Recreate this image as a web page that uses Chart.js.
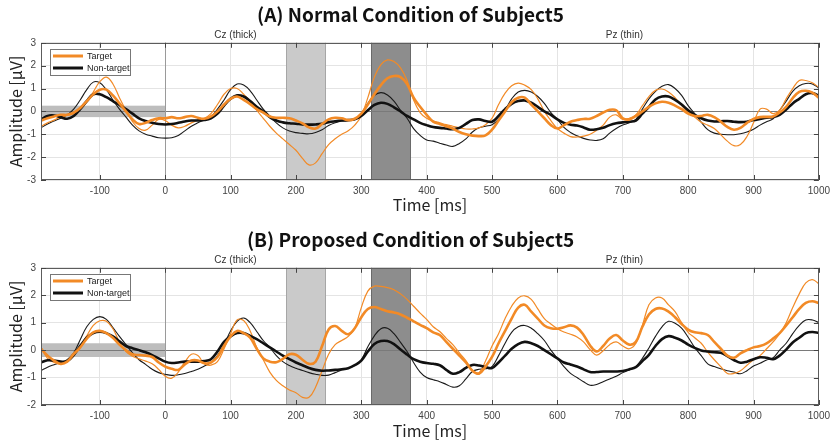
<!DOCTYPE html>
<html>
<head>
<meta charset="utf-8">
<title>Subject5 ERP</title>
<script src="https://cdn.jsdelivr.net/npm/chart.js@4.4.1/dist/chart.umd.min.js"></script>
<style>
  body { margin: 0; background: #fff; }
  canvas { display: block; }
</style>
</head>
<body>
<canvas id="normalChart" width="835" height="219"></canvas>
<canvas id="proposedChart" width="835" height="224"></canvas>
<script>
// time axis (ms), one sample every 10 ms
var times = [
  -190, -180, -170, -160, -150, -140, -130, -120, -110, -100,
  -90, -80, -70, -60, -50, -40, -30, -20, -10, 0,
  10, 20, 30, 40, 50, 60, 70, 80, 90, 100,
  110, 120, 130, 140, 150, 160, 170, 180, 190, 200,
  210, 220, 230, 240, 250, 260, 270, 280, 290, 300,
  310, 320, 330, 340, 350, 360, 370, 380, 390, 400,
  410, 420, 430, 440, 450, 460, 470, 480, 490, 500,
  510, 520, 530, 540, 550, 560, 570, 580, 590, 600,
  610, 620, 630, 640, 650, 660, 670, 680, 690, 700,
  710, 720, 730, 740, 750, 760, 770, 780, 790, 800,
  810, 820, 830, 840, 850, 860, 870, 880, 890, 900,
  910, 920, 930, 940, 950, 960, 970, 980, 990, 1000
];

// (A) normal condition, amplitude in uV
var normalCzTarget = [
  -0.4, -0.3, -0.22, -0.15, -0.15, -0.05, 0.15, 0.45, 0.75, 0.95,
  0.95, 0.7, 0.35, 0.0, -0.35, -0.55, -0.5, -0.38, -0.3, -0.3,
  -0.25, -0.3, -0.25, -0.2, -0.28, -0.32, -0.22, 0.0, 0.3, 0.55,
  0.65, 0.5, 0.32, 0.1, -0.05, -0.22, -0.28, -0.28, -0.3, -0.4,
  -0.52, -0.7, -0.75, -0.55, -0.35, -0.28, -0.3, -0.38, -0.32, -0.1,
  0.3, 0.75, 1.15, 1.45, 1.55, 1.5, 1.2, 0.6, 0.2, -0.15,
  -0.45, -0.55, -0.65, -0.75, -0.9, -1.0, -1.06, -1.08, -1.05, -0.8,
  -0.4, 0.0, 0.4, 0.6, 0.6, 0.3, 0.0, -0.3, -0.6, -0.75,
  -0.6, -0.45, -0.38, -0.33, -0.32, -0.2, -0.05, 0.07, 0.05, -0.3,
  -0.35, -0.2, 0.0, 0.2, 0.35, 0.42, 0.38, 0.25, 0.1, -0.1,
  -0.2, -0.2, -0.15, -0.25, -0.45, -0.68, -0.8, -0.72, -0.5, -0.33,
  -0.25, -0.24, -0.22, -0.05, 0.2, 0.58, 0.85, 0.9, 0.82, 0.6
];
var normalCzNontarget = [
  -0.35, -0.2, -0.18, -0.25, -0.32, -0.2, 0.1, 0.45, 0.75, 0.75,
  0.62, 0.45, 0.28, 0.1, -0.1, -0.3, -0.42, -0.5, -0.55, -0.57,
  -0.55, -0.5, -0.44, -0.4, -0.4, -0.38, -0.3, -0.1, 0.25, 0.55,
  0.7, 0.65, 0.45, 0.2, 0.0, -0.25, -0.4, -0.48, -0.52, -0.54,
  -0.57, -0.58, -0.57, -0.54, -0.47, -0.43, -0.4, -0.38, -0.34, -0.2,
  0.05, 0.28, 0.38, 0.33, 0.18, 0.0, -0.2, -0.35, -0.5, -0.6,
  -0.68, -0.72, -0.75, -0.78, -0.72, -0.55, -0.38, -0.35, -0.42, -0.45,
  -0.2, 0.1, 0.33, 0.45, 0.48, 0.38, 0.2, 0.0, -0.15, -0.35,
  -0.5, -0.58, -0.62, -0.7, -0.8, -0.78, -0.72, -0.6, -0.52, -0.48,
  -0.45, -0.4, -0.1, 0.2, 0.52, 0.65, 0.65, 0.5, 0.3, 0.05,
  -0.15, -0.3, -0.4, -0.44, -0.43, -0.42, -0.45, -0.47, -0.45, -0.38,
  -0.33, -0.28, -0.25, -0.15, 0.08, 0.35, 0.55, 0.75, 0.8, 0.68
];
var normalPzTarget = [
  -0.65, -0.5, -0.38, -0.25, -0.18, -0.1, 0.1, 0.4, 0.85, 1.3,
  1.5, 1.2, 0.6, 0.05, -0.45, -0.75, -0.82, -0.6, -0.35, -0.4,
  -0.6, -0.72, -0.65, -0.5, -0.38, -0.3, -0.1, 0.3, 0.75, 1.0,
  1.0, 0.75, 0.45, 0.05, -0.3, -0.65, -0.95, -1.2, -1.45, -1.7,
  -2.05, -2.34, -2.25, -1.85, -1.45, -1.2, -1.0, -0.85, -0.6, -0.2,
  0.6, 1.5, 2.05, 2.25, 2.18, 1.9, 1.35, 0.5, -0.05, -0.3,
  -0.42, -0.5, -0.58, -0.65, -0.72, -0.77, -0.77, -0.72, -0.58, -0.3,
  0.3, 0.8, 1.12, 1.24, 1.15, 0.95, 0.55, 0.0, -0.4, -0.75,
  -0.95, -1.1, -1.12, -1.08, -1.0, -0.82, -0.6, -0.25, -0.15, -0.35,
  -0.3, -0.15, 0.25, 0.65, 0.92, 0.98, 0.85, 0.6, 0.26, -0.05,
  -0.25, -0.47, -0.6, -0.75, -1.02, -1.3, -1.5, -1.45, -1.1, -0.5,
  0.1, 0.1, -0.1, 0.05, 0.55, 1.0, 1.35, 1.35, 1.25, 1.05
];
var normalPzNontarget = [
  -0.72, -0.55, -0.42, -0.3, -0.15, 0.1, 0.5, 0.95, 1.28, 1.25,
  0.95, 0.5, 0.1, -0.25, -0.6, -0.85, -1.0, -1.08, -1.15, -1.17,
  -1.15, -1.05, -0.85, -0.65, -0.5, -0.37, -0.22, 0.1, 0.5, 0.95,
  1.2, 1.15, 0.9, 0.5, 0.1, -0.2, -0.5, -0.72, -0.86, -0.93,
  -0.96, -0.98, -0.92, -0.8, -0.62, -0.5, -0.42, -0.4, -0.35, -0.1,
  0.35, 0.7, 0.82, 0.72, 0.45, 0.05, -0.3, -0.75, -1.05, -1.25,
  -1.3, -1.39, -1.47, -1.53, -1.4, -1.2, -0.9, -0.72, -0.65, -0.58,
  -0.35, 0.05, 0.55, 0.85, 0.92, 0.85, 0.65, 0.35, -0.05, -0.35,
  -0.7, -0.92, -1.07, -1.18, -1.25, -1.27, -1.2, -0.95, -0.75, -0.6,
  -0.5, -0.35, 0.1, 0.55, 0.88, 1.1, 1.17, 1.0, 0.7, 0.25,
  -0.1, -0.47, -0.8, -0.95, -1.0, -1.02, -1.02, -0.98, -0.9, -0.78,
  -0.6, -0.45, -0.32, 0.05, 0.45, 0.88, 1.12, 1.22, 1.2, 1.02
];

// (B) proposed condition
var proposedCzTarget = [
  0.05, -0.2, -0.38, -0.5, -0.42, -0.15, 0.1, 0.42, 0.65, 0.7,
  0.62, 0.45, 0.2, 0.0, -0.15, -0.18, -0.2, -0.25, -0.45, -0.6,
  -0.68, -0.72, -0.52, -0.38, -0.38, -0.48, -0.45, -0.25, 0.15, 0.5,
  0.7, 0.62, 0.45, 0.05, -0.3, -0.42, -0.44, -0.32, -0.15, -0.17,
  -0.35, -0.5, -0.42, 0.15, 0.75, 0.88, 0.7, 0.58, 0.8, 1.2,
  1.5, 1.57, 1.5, 1.42, 1.37, 1.3, 1.18, 1.05, 0.92, 0.8,
  0.65, 0.55, 0.3, 0.05, -0.2, -0.45, -0.75, -0.86, -0.6, -0.25,
  0.25, 0.7, 1.15, 1.55, 1.65, 1.4, 1.15, 0.9, 0.8, 0.78,
  0.83, 0.9, 0.82, 0.55, 0.17, -0.05, 0.15, 0.42, 0.55, 0.35,
  0.2, 0.3, 0.85, 1.3, 1.5, 1.52, 1.4, 1.2, 0.95, 0.75,
  0.65, 0.62, 0.55, 0.3, 0.05, -0.2, -0.28, -0.12, 0.0, 0.1,
  0.15, 0.25, 0.42, 0.62, 0.9, 1.2, 1.5, 1.72, 1.78, 1.72
];
var proposedCzNontarget = [
  -0.45, -0.37, -0.38, -0.42, -0.4, -0.18, 0.15, 0.45, 0.62, 0.67,
  0.62, 0.5, 0.32, 0.15, 0.07, 0.0, -0.08, -0.18, -0.3, -0.42,
  -0.47, -0.45, -0.42, -0.42, -0.42, -0.4, -0.33, -0.05, 0.3, 0.5,
  0.62, 0.62, 0.52, 0.4, 0.25, 0.1, -0.05, -0.2, -0.33, -0.45,
  -0.55, -0.65, -0.72, -0.75, -0.74, -0.72, -0.7, -0.66, -0.55, -0.38,
  -0.05, 0.22, 0.33, 0.33, 0.22, 0.02, -0.16, -0.33, -0.42, -0.47,
  -0.5, -0.55, -0.72, -0.86, -0.8, -0.65, -0.54, -0.56, -0.62, -0.65,
  -0.45, -0.2, 0.05, 0.22, 0.3, 0.25, 0.15, 0.0, -0.15, -0.3,
  -0.45, -0.52, -0.6, -0.7, -0.8, -0.8, -0.78, -0.78, -0.78, -0.76,
  -0.7, -0.62, -0.4, -0.17, 0.15, 0.4, 0.51, 0.45, 0.35, 0.2,
  0.08, -0.01, -0.05, -0.08, -0.1, -0.22, -0.36, -0.46, -0.42, -0.33,
  -0.26, -0.28, -0.33, -0.2, 0.02, 0.28, 0.45, 0.62, 0.66, 0.63
];
var proposedPzTarget = [
  0.1, -0.3, -0.45, -0.5, -0.4, -0.1, 0.15, 0.52, 0.9, 1.07,
  1.05, 0.78, 0.3, -0.05, -0.22, -0.32, -0.4, -0.5, -0.7, -0.95,
  -1.02, -0.8, -0.44, -0.15, -0.2, -0.5, -0.55, -0.42, 0.05, 0.6,
  1.1, 1.08, 0.7, 0.1, -0.35, -0.8, -1.1, -1.3, -1.45, -1.55,
  -1.72, -1.72, -1.35, -0.75, -0.15, 0.2, 0.35, 0.5, 0.8, 1.55,
  2.15, 2.33, 2.32, 2.28, 2.2, 2.05, 1.85, 1.6, 1.35, 1.12,
  0.85, 0.68, 0.43, 0.2, -0.1, -0.38, -0.75, -0.82, -0.4, 0.15,
  0.6, 1.15, 1.6, 1.9, 1.98, 1.85, 1.5, 1.15, 0.95, 0.78,
  0.66, 0.58, 0.48, 0.3, 0.02, -0.18, -0.02, 0.2, 0.3, 0.15,
  0.05, 0.25, 0.9, 1.65, 1.9, 1.9, 1.65, 1.4, 1.0, 0.65,
  0.45, 0.25, -0.07, -0.35, -0.6, -0.85, -0.85, -0.75, -0.55, -0.35,
  -0.2, 0.05, 0.3, 0.6, 1.0, 1.55, 2.05, 2.45, 2.57, 2.42
];
var proposedPzNontarget = [
  -0.75, -0.62, -0.53, -0.45, -0.35, -0.1, 0.38, 0.85, 1.12, 1.22,
  1.12, 0.82, 0.5, 0.2, -0.1, -0.35, -0.52, -0.7, -0.82, -0.88,
  -0.92, -0.9, -0.85, -0.78, -0.7, -0.58, -0.45, -0.2, 0.2, 0.7,
  1.05, 1.17, 1.0, 0.68, 0.35, 0.1, -0.2, -0.42, -0.56, -0.66,
  -0.74, -0.82, -0.88, -0.92, -0.91, -0.82, -0.72, -0.66, -0.55, -0.35,
  0.12, 0.52, 0.78, 0.8, 0.6, 0.28, -0.05, -0.45, -0.8, -1.0,
  -1.08, -1.15, -1.25, -1.35, -1.3, -1.05, -0.78, -0.7, -0.68, -0.6,
  -0.2, 0.25, 0.65, 0.85, 0.9, 0.8, 0.6, 0.35, 0.0, -0.3,
  -0.6, -0.85, -1.0, -1.15, -1.28, -1.25, -1.15, -1.05, -0.95, -0.82,
  -0.72, -0.6, -0.3, 0.08, 0.5, 0.85, 1.05, 0.98, 0.8, 0.47,
  0.1, -0.2, -0.5, -0.6, -0.68, -0.75, -0.8, -0.86, -0.75, -0.58,
  -0.48, -0.36, -0.28, 0.0, 0.25, 0.6, 0.9, 1.1, 1.1, 1.0
];

var xTicks = [-100, 0, 100, 200, 300, 400, 500, 600, 700, 800, 900, 1000];
var yTicksNormal = [-3, -2, -1, 0, 1, 2, 3];
var yTicksProposed = [-2, -1, 0, 1, 2, 3];

// baseline window and the two analysis windows (ms)
var baselineWin = [-190, 0];
var baselineAmp = 0.25;
var earlyWin = [185, 245];
var lateWin = [315, 375];

var legendLabels = ['Target', 'Non-target'];
var captions = ['Cz (thick)', 'Pz (thin)'];

var ORANGE = '#f28a26';
var BLACK = '#111111';

function points(vals) {
  return vals.map(function (v, i) { return { x: times[i], y: v }; });
}

function vline(ctx, px, y0, y1) {
  ctx.beginPath();
  ctx.moveTo(Math.round(px) + 0.5, y0);
  ctx.lineTo(Math.round(px) + 0.5, y1);
  ctx.stroke();
}
function hline(ctx, py, x0, x1) {
  ctx.beginPath();
  ctx.moveTo(x0, Math.round(py) + 0.5);
  ctx.lineTo(x1, Math.round(py) + 0.5);
  ctx.stroke();
}

// shaded windows, zero lines, frame, inner ticks, captions and legend
var erpDecor = {
  id: 'erpDecor',
  beforeDatasetsDraw: function (chart) {
    var ctx = chart.ctx, a = chart.chartArea;
    var x = chart.scales.x, y = chart.scales.y;
    ctx.save();

    var bx0 = x.getPixelForValue(baselineWin[0]), bx1 = x.getPixelForValue(baselineWin[1]);
    var by0 = y.getPixelForValue(baselineAmp), by1 = y.getPixelForValue(-baselineAmp);
    ctx.fillStyle = '#bdbdbd';
    ctx.fillRect(bx0, by0, bx1 - bx0, by1 - by0);

    var ex0 = x.getPixelForValue(earlyWin[0]), ex1 = x.getPixelForValue(earlyWin[1]);
    ctx.fillStyle = '#cacaca';
    ctx.fillRect(ex0, a.top, ex1 - ex0, a.bottom - a.top);
    ctx.strokeStyle = '#a6a6a6';
    ctx.lineWidth = 1;
    vline(ctx, ex0, a.top, a.bottom);
    vline(ctx, ex1, a.top, a.bottom);

    var lx0 = x.getPixelForValue(lateWin[0]), lx1 = x.getPixelForValue(lateWin[1]);
    ctx.fillStyle = '#8d8d8d';
    ctx.fillRect(lx0, a.top, lx1 - lx0, a.bottom - a.top);
    ctx.strokeStyle = '#6a6a6a';
    vline(ctx, lx0, a.top, a.bottom);
    vline(ctx, lx1, a.top, a.bottom);

    ctx.strokeStyle = '#7a7a7a';
    hline(ctx, y.getPixelForValue(0), a.left, a.right);
    ctx.strokeStyle = '#9a9a9a';
    vline(ctx, x.getPixelForValue(0), a.top, a.bottom);
    ctx.restore();
  },
  afterDatasetsDraw: function (chart) {
    var ctx = chart.ctx, a = chart.chartArea;
    var x = chart.scales.x, y = chart.scales.y;
    ctx.save();

    // axes box
    ctx.strokeStyle = '#5c5c5c';
    ctx.lineWidth = 1;
    ctx.strokeRect(Math.round(a.left) + 0.5, Math.round(a.top) + 0.5,
      Math.round(a.right - a.left) - 1, Math.round(a.bottom - a.top) - 1);

    // inward tick marks
    ctx.strokeStyle = '#444';
    x.ticks.forEach(function (t) {
      var px = x.getPixelForValue(t.value);
      vline(ctx, px, a.bottom, a.bottom - 5);
      vline(ctx, px, a.top, a.top + 5);
    });
    y.ticks.forEach(function (t) {
      var py = y.getPixelForValue(t.value);
      hline(ctx, py, a.left, a.left + 5);
      hline(ctx, py, a.right - 5, a.right);
    });

    // electrode captions above the axes
    ctx.fillStyle = '#333';
    ctx.font = '10px "Liberation Sans", Arial, sans-serif';
    ctx.textAlign = 'center';
    ctx.textBaseline = 'middle';
    ctx.fillText(captions[0], a.left + (a.right - a.left) * 0.25, a.top - 8);
    ctx.fillText(captions[1], a.left + (a.right - a.left) * 0.75, a.top - 8);

    // legend box
    var lx = Math.round(a.left) + 9, ly = Math.round(a.top) + 6;
    ctx.fillStyle = '#fff';
    ctx.fillRect(lx, ly, 80, 26);
    ctx.strokeStyle = '#777';
    ctx.strokeRect(lx + 0.5, ly + 0.5, 80, 26);
    var cols = [ORANGE, BLACK];
    ctx.textAlign = 'left';
    ctx.font = '9px "Liberation Sans", Arial, sans-serif';
    for (var i = 0; i < 2; i++) {
      var yy = ly + 7 + i * 12;
      ctx.strokeStyle = cols[i];
      ctx.lineWidth = 3;
      ctx.beginPath();
      ctx.moveTo(lx + 3, yy);
      ctx.lineTo(lx + 33, yy);
      ctx.stroke();
      ctx.fillStyle = '#222';
      ctx.fillText(legendLabels[i], lx + 37, yy + 0.5);
    }
    ctx.restore();
  }
};

function makeChart(id, title, series, yTicks, t) {
  var ctx = document.getElementById(id).getContext('2d');
  return new Chart(ctx, {
    type: 'line',
    data: {
      datasets: [
        { label: 'Target Cz', data: points(series[0]), borderColor: ORANGE, borderWidth: 2.6, order: 0 },
        { label: 'Non-target Cz', data: points(series[1]), borderColor: BLACK, borderWidth: 2.6, order: 1 },
        { label: 'Target Pz', data: points(series[2]), borderColor: ORANGE, borderWidth: 1.2, order: 2 },
        { label: 'Non-target Pz', data: points(series[3]), borderColor: '#1a1a1a', borderWidth: 1.1, order: 3 }
      ]
    },
    plugins: [erpDecor],
    options: {
      responsive: false,
      animation: false,
      events: [],
      elements: {
        point: { radius: 0 },
        line: { tension: 0.4, fill: false }
      },
      layout: { padding: { left: 0, right: 14, top: 0, bottom: 0 } },
      plugins: {
        legend: { display: false },
        tooltip: { enabled: false },
        title: {
          display: true,
          text: title,
          color: '#111',
          font: { family: '"Noto Sans CJK KR", "Noto Sans", sans-serif', size: 19, weight: 'bold', lineHeight: 1.2 },
          padding: { top: t.titleTop, bottom: t.titleBottom }
        }
      },
      scales: {
        x: {
          type: 'linear',
          min: -190,
          max: 1000,
          afterBuildTicks: function (scale) {
            scale.ticks = xTicks.map(function (v) { return { value: v }; });
          },
          afterFit: function (scale) { scale.height = t.xHeight; },
          grid: { color: '#e4e4e4', drawTicks: false },
          border: { display: false },
          ticks: {
            padding: 5,
            color: '#444',
            font: { family: '"Liberation Sans", Arial, sans-serif', size: 10 },
            callback: function (v) { return String(v); }
          },
          title: {
            display: true,
            text: 'Time [ms]',
            color: '#222',
            font: { family: '"Noto Sans CJK KR", "Noto Sans", sans-serif', size: 16, lineHeight: 1.2 },
            padding: { top: 0, bottom: t.xTitleBottom }
          }
        },
        y: {
          min: yTicks[0],
          max: yTicks[yTicks.length - 1],
          afterBuildTicks: function (scale) {
            scale.ticks = yTicks.map(function (v) { return { value: v }; });
          },
          afterFit: function (scale) { scale.width = 41; },
          grid: { color: '#e4e4e4', drawTicks: false },
          border: { display: false },
          ticks: {
            padding: 5,
            color: '#444',
            font: { family: '"Liberation Sans", Arial, sans-serif', size: 10 },
            callback: function (v) { return String(v); }
          },
          title: {
            display: true,
            text: 'Amplitude [\u03bcV]',
            color: '#222',
            font: { family: '"Noto Sans CJK KR", "Noto Sans", sans-serif', size: 16, lineHeight: 1.2 },
            padding: { top: 6, bottom: 0 }
          }
        }
      }
    }
  });
}

makeChart('normalChart', '(A) Normal Condition of Subject5',
  [normalCzTarget, normalCzNontarget, normalPzTarget, normalPzNontarget],
  yTicksNormal, { titleTop: 3, titleBottom: 17, xHeight: 39, xTitleBottom: 4 });

makeChart('proposedChart', '(B) Proposed Condition of Subject5',
  [proposedCzTarget, proposedCzNontarget, proposedPzTarget, proposedPzNontarget],
  yTicksProposed, { titleTop: 9, titleBottom: 17, xHeight: 38, xTitleBottom: 2 });
</script>
</body>
</html>
